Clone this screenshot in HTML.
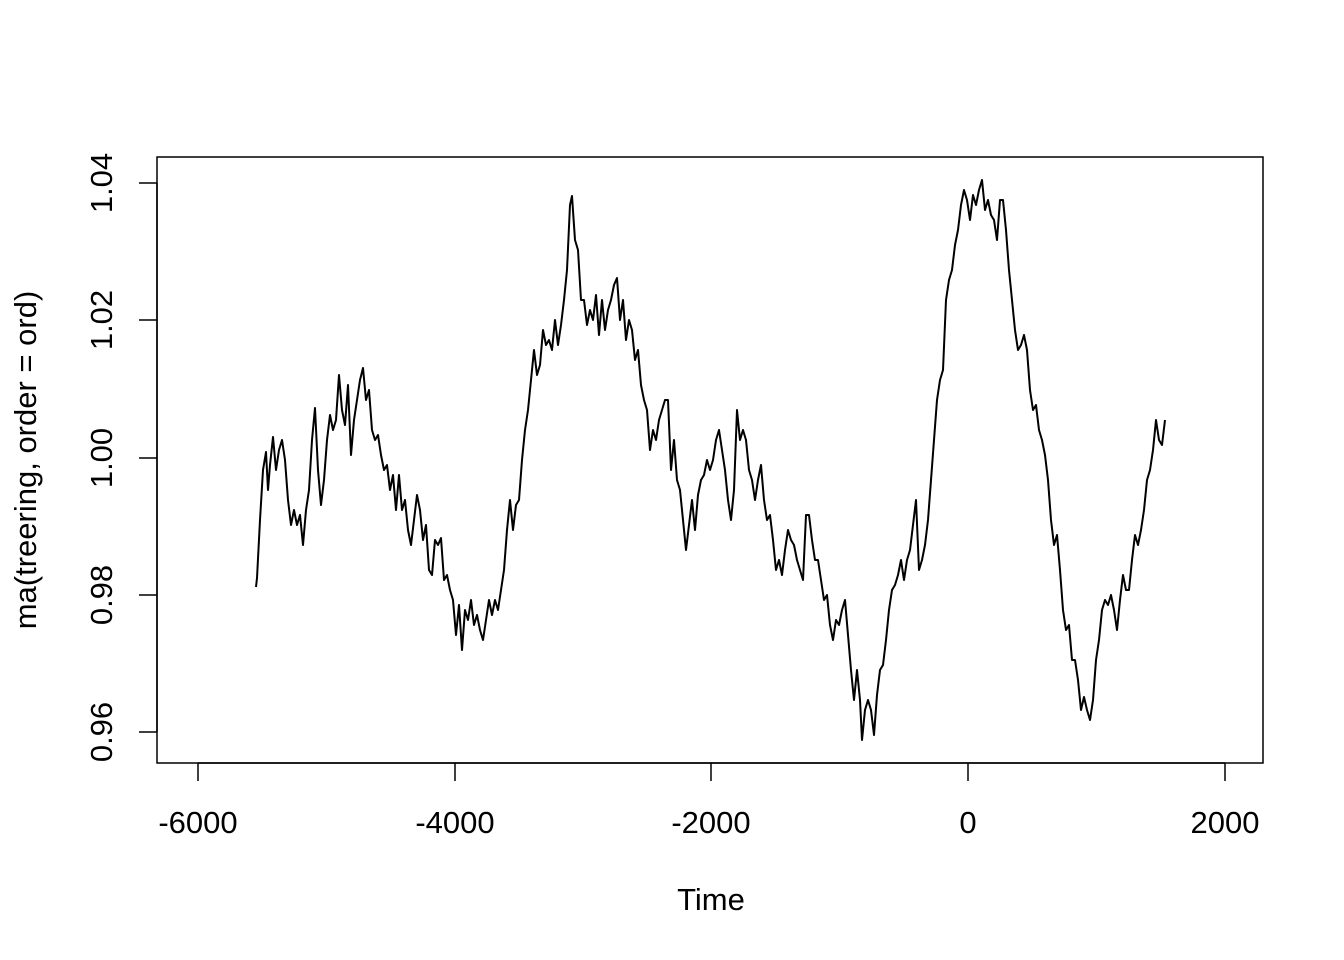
<!DOCTYPE html>
<html><head><meta charset="utf-8"><style>
html,body{margin:0;padding:0;background:#fff;}
svg{display:block;font-family:"Liberation Sans",Arial,sans-serif;}
</style></head><body>
<svg width="1344" height="960" viewBox="0 0 1344 960" xmlns="http://www.w3.org/2000/svg">
<rect x="157" y="157" width="1106" height="606" fill="none" stroke="#000" stroke-width="1.5"/>
<g stroke="#000" stroke-width="1.5">
<line x1="198" y1="763" x2="1225" y2="763"/>
<line x1="198" y1="763" x2="198" y2="781"/>
<line x1="455" y1="763" x2="455" y2="781"/>
<line x1="711" y1="763" x2="711" y2="781"/>
<line x1="968" y1="763" x2="968" y2="781"/>
<line x1="1225" y1="763" x2="1225" y2="781"/>
<line x1="157" y1="183" x2="157" y2="732"/>
<line x1="139" y1="183" x2="157" y2="183"/>
<line x1="139" y1="320" x2="157" y2="320"/>
<line x1="139" y1="458" x2="157" y2="458"/>
<line x1="139" y1="595" x2="157" y2="595"/>
<line x1="139" y1="732" x2="157" y2="732"/>
</g>
<g font-size="31" text-anchor="middle" fill="#000">
<text x="198" y="833">-6000</text>
<text x="455" y="833">-4000</text>
<text x="711" y="833">-2000</text>
<text x="968" y="833">0</text>
<text x="1225" y="833">2000</text>
<text x="711" y="910">Time</text>
<text transform="translate(112,183) rotate(-90)">1.04</text>
<text transform="translate(112,320) rotate(-90)">1.02</text>
<text transform="translate(112,458) rotate(-90)">1.00</text>
<text transform="translate(112,595) rotate(-90)">0.98</text>
<text transform="translate(112,732) rotate(-90)">0.96</text>
<text transform="translate(36,460) rotate(-90)">ma(treering, order = ord)</text>
</g>
<polyline fill="none" stroke="#000" stroke-width="2" stroke-linejoin="round" points="256,587 257,578 260,520 263,470 266,452 268,490 270,465 273,437 276,470 279,450 282,440 285,460 288,500 291,525 294,510 297,525 300,515 303,545 306,510 309,490 312,440 315,408 318,470 321,505 324,480 327,440 330,415 333,430 336,420 339,375 342,410 345,425 348,385 351,455 354,420 357,400 360,380 363,368 366,400 369,390 372,430 375,440 378,435 381,455 384,470 387,465 390,490 393,475 396,510 399,475 402,510 405,500 408,530 411,545 414,520 417,495 420,510 423,540 426,525 429,570 432,575 435,540 438,545 441,538 444,580 447,575 450,590 453,600 456,635 459,605 462,650 465,610 468,620 471,600 474,625 477,615 480,630 483,640 486,620 489,600 492,615 495,600 498,610 501,590 504,570 507,530 510,500 513,530 516,505 519,500 522,460 525,430 528,410 531,380 534,350 537,375 540,365 543,330 546,345 549,340 552,350 555,320 558,345 561,325 564,300 567,270 570,205 572,196 575,240 578,250 581,300 584,300 587,325 590,310 593,320 596,295 599,335 602,300 605,330 608,310 611,300 614,285 617,278 620,320 623,300 626,340 629,320 632,330 635,360 638,350 641,385 644,400 647,410 650,450 653,430 656,440 659,420 662,410 665,400 668,400 671,470 674,440 677,480 680,490 683,520 686,550 689,525 692,500 695,530 698,495 701,480 704,475 707,460 710,470 713,460 716,440 719,430 722,450 725,470 728,500 731,520 734,490 737,410 740,440 743,430 746,440 749,470 752,480 755,500 758,480 761,465 764,500 767,520 770,515 773,540 776,570 779,560 782,575 785,550 788,530 791,540 794,545 797,560 800,570 803,580 806,515 809,515 812,540 815,560 818,560 821,580 824,600 827,595 830,625 833,640 836,620 839,625 842,610 845,600 848,635 851,670 854,700 857,670 860,700 862,740 865,710 868,700 871,710 874,735 877,695 880,670 883,665 886,640 889,610 892,590 895,585 898,575 901,560 904,580 907,560 910,550 913,525 916,500 919,570 922,560 925,545 928,520 931,480 934,440 937,400 940,380 943,370 946,300 949,280 952,270 955,245 958,230 961,205 964,190 967,200 970,220 973,195 976,205 979,190 982,180 985,210 988,200 991,215 994,220 997,240 1000,200 1003,200 1006,230 1009,270 1012,300 1015,330 1018,350 1021,345 1024,335 1027,350 1030,390 1033,410 1036,405 1039,430 1042,440 1045,455 1048,480 1051,520 1054,545 1057,535 1060,570 1063,610 1066,630 1069,625 1072,660 1075,660 1078,680 1081,710 1084,697 1087,710 1090,720 1093,700 1096,660 1099,640 1102,610 1105,600 1108,605 1111,595 1114,610 1117,630 1120,600 1123,575 1126,590 1129,590 1132,560 1135,535 1138,545 1141,530 1144,510 1147,480 1150,470 1153,450 1156,420 1159,440 1162,445 1165,420"/>
</svg>
</body></html>
